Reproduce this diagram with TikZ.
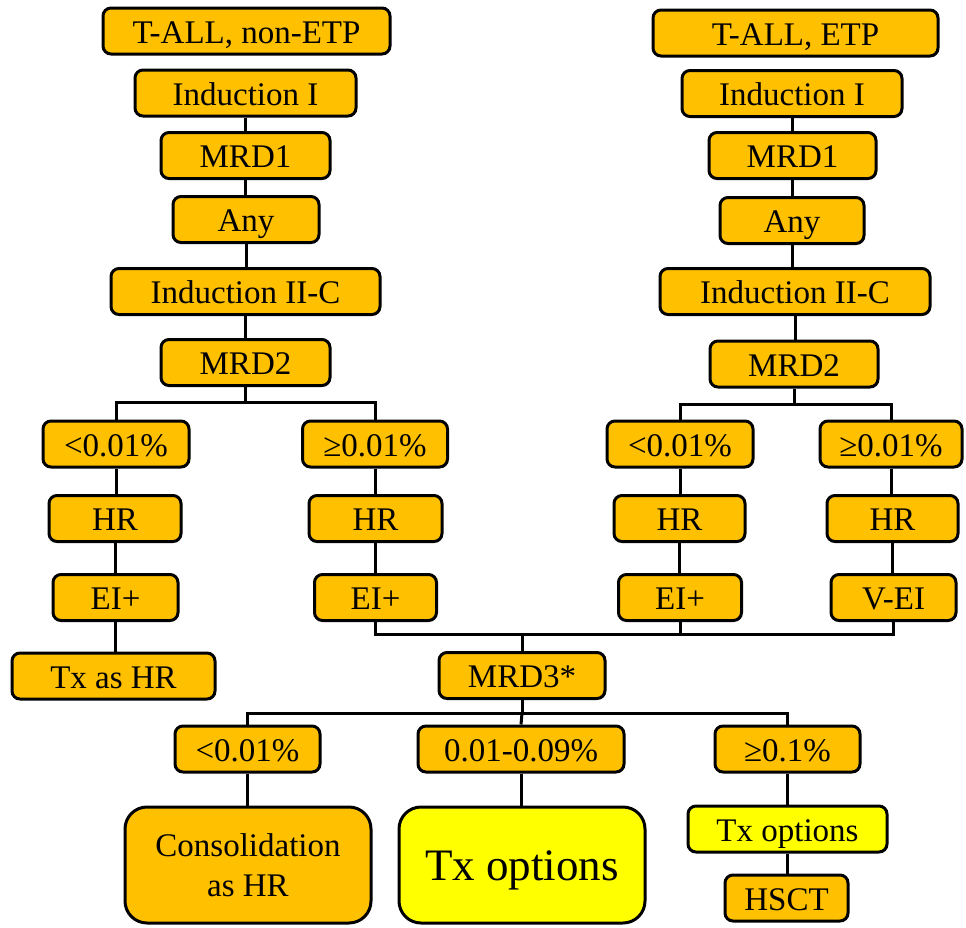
\documentclass[tikz,border=0pt]{standalone}
\usepackage{fontspec}
\setmainfont{Liberation Serif}
\definecolor{gold}{HTML}{FFC000}
\definecolor{lemon}{HTML}{FFFF00}
\begin{document}
\begin{tikzpicture}[x=1pt,y=-1pt,
  boxbase/.style={draw=black, line width=3pt, rounded corners=8pt, fill=gold,
    inner sep=0pt, font=\fontsize{33}{40}\selectfont},
  box/.style={boxbase, text height=24pt, text depth=0pt, minimum height=46pt},
  bigbox/.style={boxbase, rounded corners=22pt, minimum height=116pt, minimum width=246pt},
  link/.style={draw=black, line width=3pt}]
\useasboundingbox (0,0) rectangle (966,927);

% ---- non-ETP column ----
\node[box, minimum width=287pt] (tl0) at (246.5,31) {T-ALL, non-ETP};
\node[box, minimum width=221pt] (tl1) at (245.5,93) {Induction I};
\node[box, minimum width=169pt] (tl2) at (245.5,155.5) {MRD1};
\node[box, minimum width=146pt] (tl3) at (246,219.5) {Any};
\node[box, minimum width=269pt] (tl4) at (245.5,291.5) {Induction II-C};
\node[box, minimum width=169pt] (tl5) at (245.5,362.5) {MRD2};

\node[box, minimum width=146pt] (la1) at (116,444) {<0.01\%};
\node[box, minimum width=145pt] (lb1) at (375,444) {≥0.01\%};
\node[box, minimum width=132pt] (la2) at (115,518.5) {HR};
\node[box, minimum width=133pt] (lb2) at (375.5,518.5) {HR};
\node[box, minimum width=125pt] (la3) at (115.5,597.5) {EI+};
\node[box, minimum width=122pt] (lb3) at (375.5,597.5) {EI+};
\node[box, minimum width=203pt] (la4) at (113.5,676) {Tx as HR};

% ---- ETP column ----
\node[box, minimum width=285pt] (tr0) at (795.5,33) {T-ALL, ETP};
\node[box, minimum width=220pt] (tr1) at (792,93.5) {Induction I};
\node[box, minimum width=167pt] (tr2) at (792.5,155.5) {MRD1};
\node[box, minimum width=144pt] (tr3) at (792,220.5) {Any};
\node[box, minimum width=270pt] (tr4) at (795,291.5) {Induction II-C};
\node[box, minimum width=168pt] (tr5) at (794,364) {MRD2};

\node[box, minimum width=146pt] (ra1) at (680,444) {<0.01\%};
\node[box, minimum width=142pt] (rb1) at (891,444) {≥0.01\%};
\node[box, minimum width=131pt] (ra2) at (679.5,518.5) {HR};
\node[box, minimum width=131pt] (rb2) at (892.5,518.5) {HR};
\node[box, minimum width=123pt] (ra3) at (680,597.5) {EI+};
\node[box, minimum width=125pt] (rb3) at (893.5,597.5) {V-EI};

% ---- MRD3 and outcomes ----
\node[box, minimum width=166pt] (m3) at (522,675.5) {MRD3*};
\node[box, minimum width=145pt] (ba) at (247.5,749) {<0.01\%};
\node[box, minimum width=206pt] (bb) at (521,749) {0.01-0.09\%};
\node[box, minimum width=145pt] (bc) at (787.5,749) {≥0.1\%};

\node[bigbox, align=center] (ca) at (248,865) {Consolidation\\as HR};
\node[bigbox, fill=lemon, font=\fontsize{45}{54}\selectfont, text height=31pt, text depth=0pt] (cb) at (522,865) {Tx options};
\node[box, fill=lemon, minimum width=199pt] (cc) at (787.5,829) {Tx options};
\node[box, minimum width=123pt] (cd) at (786.5,898) {HSCT};

% ---- junction points ----
\coordinate (jl) at (245.5,402);
\coordinate (jr) at (794,404);
\coordinate (jm) at (522,634);
\coordinate (jb) at (522,713);

% ---- connectors ----
\foreach \a/\b in {tl1/tl2, tl2/tl3, tl3/tl4, tl4/tl5,
                   tr1/tr2, tr2/tr3, tr3/tr4, tr4/tr5,
                   la1/la2, la2/la3, la3/la4, lb1/lb2, lb2/lb3,
                   ra1/ra2, ra2/ra3, rb1/rb2, rb2/rb3,
                   ba/ca, bb/cb, bc/cc, cc/cd}
  \draw[link] (\a.south) -- (\a.south |- \b.north);

\draw[link] (tl5.south) -- (jl);
\draw[link] (la1.north) |- (jl) -| (lb1.north);
\draw[link] (tr5.south) -- (jr);
\draw[link] (ra1.north) |- (jr) -| (rb1.north);

\draw[link] (lb3.south) |- (jm) -| (rb3.south);
\draw[link] (ra3.south) -- (ra3.south |- jm);
\draw[link] (jm) -- (m3.north);

\draw[link] (m3.south) -- (jb);
\draw[link] (ba.north) |- (jb) -| (bc.north);
\draw[link] (jb) -- (bb.north);
\end{tikzpicture}
\end{document}
